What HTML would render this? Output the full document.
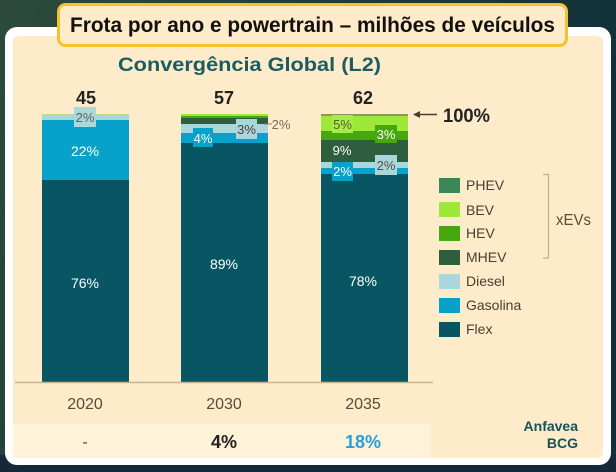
<!DOCTYPE html>
<html><head><meta charset="utf-8"><style>
html,body{margin:0;padding:0;width:616px;height:472px;overflow:hidden;background:#1c3a3a;}
svg{display:block;}
text{font-family:"Liberation Sans",sans-serif;}
</style></head><body>
<svg width="616" height="472" viewBox="0 0 616 472" xmlns="http://www.w3.org/2000/svg">
<defs>
<linearGradient id="bg" x1="0" y1="0" x2="1" y2="0.3">
<stop offset="0" stop-color="#2c4b3b"/><stop offset="0.5" stop-color="#1d3d3a"/><stop offset="1" stop-color="#10303a"/>
</linearGradient>
</defs>
<rect x="0" y="0" width="616" height="472" fill="url(#bg)"/>
<rect x="0" y="455" width="616" height="17" fill="#15283a"/>
<!-- frame -->
<rect x="5" y="27" width="606" height="438" rx="12" fill="#ffffff"/>
<rect x="13" y="36" width="590" height="422" rx="6" fill="#fdebc9"/>
<rect x="13" y="424" width="418" height="34" fill="#fef3d9"/>
<!-- title box -->
<rect x="58.5" y="4.5" width="508" height="41" rx="7" fill="#fdebc9" stroke="#f4c130" stroke-width="3"/>
<text x="70" y="32" font-size="21" font-weight="bold" fill="#111" textLength="485" lengthAdjust="spacingAndGlyphs">Frota por ano e powertrain – milhões de veículos</text>
<text x="118" y="71" font-size="19" font-weight="bold" fill="#1b5c63" textLength="263" lengthAdjust="spacingAndGlyphs">Convergência Global (L2)</text>
<!-- totals -->
<g font-size="18" font-weight="bold" fill="#222" text-anchor="middle">
<text x="86" y="104">45</text><text x="224" y="104">57</text><text x="363" y="104">62</text>
</g>
<!-- bar 2020 -->
<rect x="42" y="114" width="87" height="1.5" fill="#b9dd8c"/>
<rect x="42" y="115.5" width="87" height="4.5" fill="#a8d8dc"/>
<rect x="42" y="120" width="87" height="60" fill="#07a1ca"/>
<rect x="42" y="180" width="87" height="202" fill="#085664"/>
<!-- bar 2030 -->
<rect x="181" y="114" width="87" height="2" fill="#9ee83a"/>
<rect x="181" y="116" width="87" height="2" fill="#47a80e"/>
<rect x="181" y="118" width="87" height="6" fill="#2e5e3e"/>
<rect x="181" y="124" width="87" height="9" fill="#a8d8dc"/>
<rect x="181" y="133" width="87" height="10" fill="#07a1ca"/>
<rect x="181" y="143" width="87" height="239" fill="#085664"/>
<!-- bar 2035 -->
<rect x="321" y="114" width="87" height="2" fill="#8c9560"/>
<rect x="321" y="116" width="87" height="15" fill="#9ee83a"/>
<rect x="321" y="131" width="87" height="9" fill="#47a80e"/>
<rect x="321" y="140" width="87" height="22" fill="#2e5e3e"/>
<rect x="321" y="162" width="87" height="6" fill="#a8d8dc"/>
<rect x="321" y="168" width="87" height="6" fill="#07a1ca"/>
<rect x="321" y="174" width="87" height="208" fill="#085664"/>
<!-- axis -->
<line x1="15" y1="382.5" x2="433" y2="382.5" stroke="#c9b48f" stroke-width="1.5"/>
<!-- labels in bars -->
<g font-size="13" text-anchor="middle">
<rect x="74" y="107" width="22" height="20" fill="#a8d8dc"/>
<text x="85" y="122" fill="#6b5d50">2%</text>
<text x="85" y="156" fill="#ffffff" font-size="14">22%</text>
<text x="85" y="288" fill="#ffffff" font-size="14">76%</text>

<rect x="193" y="128" width="20" height="19" fill="#07a1ca"/>
<text x="203" y="143" fill="#ffffff">4%</text>
<rect x="236" y="119" width="21" height="20" fill="#a8d8dc"/>
<text x="246.5" y="134" fill="#4a3f35">3%</text>
<line x1="264" y1="124" x2="272" y2="124" stroke="#8a7a6a" stroke-width="1"/>
<text x="281" y="129" fill="#7a6a5a">2%</text>
<text x="224" y="269" fill="#ffffff" font-size="14">89%</text>

<rect x="332" y="115" width="21" height="18" fill="#a6ec48"/>
<text x="342.5" y="129" fill="#5b5a2a">5%</text>
<rect x="375" y="125" width="22" height="18" fill="#47a80e"/>
<text x="386" y="139" fill="#ffffff">3%</text>
<text x="342" y="155" fill="#ffffff">9%</text>
<rect x="375" y="155" width="22" height="20" fill="#a8d8dc"/>
<text x="386" y="170" fill="#5a4d40">2%</text>
<rect x="332" y="162" width="21" height="19" fill="#07a1ca"/>
<text x="342.5" y="176" fill="#ffffff">2%</text>
<text x="363" y="286" fill="#ffffff" font-size="14">78%</text>
</g>
<!-- 100% arrow -->
<line x1="417" y1="114.5" x2="437" y2="114.5" stroke="#4a3d30" stroke-width="1.5"/>
<path d="M413 114.5 L420 111 L420 118 Z" fill="#4a3d30"/>
<text x="443" y="122" font-size="19" font-weight="bold" fill="#222" textLength="47" lengthAdjust="spacingAndGlyphs">100%</text>
<!-- years -->
<g font-size="16" fill="#5a4a3a" text-anchor="middle">
<text x="85" y="409">2020</text><text x="224" y="409">2030</text><text x="363" y="409">2035</text>
</g>
<!-- bottom row -->
<text x="85" y="447" font-size="16" fill="#444" text-anchor="middle">-</text>
<text x="224" y="448" font-size="18" font-weight="bold" fill="#222" text-anchor="middle">4%</text>
<text x="363" y="448" font-size="18" font-weight="bold" fill="#2a9fd6" text-anchor="middle">18%</text>
<!-- legend -->
<rect x="439" y="178" width="21" height="15" fill="#3a8758"/>
<rect x="439" y="202" width="21" height="15" fill="#9ee83a"/>
<rect x="439" y="226" width="21" height="15" fill="#47a80e"/>
<rect x="439" y="250" width="21" height="15" fill="#2e5e3e"/>
<rect x="439" y="274" width="21" height="15" fill="#a8d8dc"/>
<rect x="439" y="298" width="21" height="15" fill="#07a1ca"/>
<rect x="439" y="322" width="21" height="15" fill="#085664"/>
<g font-size="14" fill="#4a3d30">
<text x="466" y="190">PHEV</text>
<text x="466" y="215">BEV</text>
<text x="466" y="238">HEV</text>
<text x="466" y="262">MHEV</text>
<text x="466" y="286">Diesel</text>
<text x="466" y="310">Gasolina</text>
<text x="466" y="334">Flex</text>
</g>
<path d="M543 174.5 H548.5 V258 H543" fill="none" stroke="#c4ad8a" stroke-width="1.2"/>
<text x="556" y="225" font-size="16" fill="#5a4a3a" textLength="35" lengthAdjust="spacingAndGlyphs">xEVs</text>
<!-- source -->
<g font-size="14" font-weight="bold" fill="#17535a" text-anchor="end">
<text x="578" y="431">Anfavea</text>
<text x="578" y="448">BCG</text>
</g>
</svg>
</body></html>
